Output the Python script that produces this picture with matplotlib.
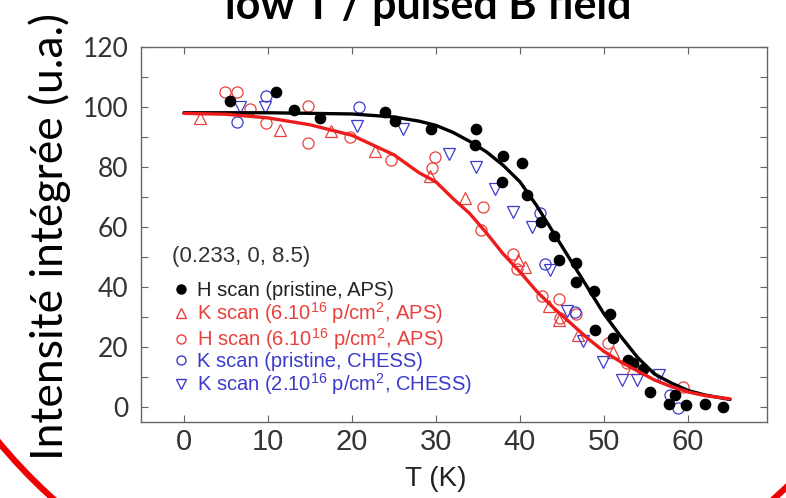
"""Integrated intensity vs temperature, slide crop 'low T / pulsed B field'."""
import matplotlib
matplotlib.use("Agg")
import matplotlib.pyplot as plt
from matplotlib.lines import Line2D
from matplotlib.patches import Arc
from matplotlib.transforms import IdentityTransform

plt.rcParams["mathtext.fontset"] = "custom"
plt.rcParams["mathtext.rm"] = "Liberation Sans"
plt.rcParams["mathtext.it"] = "Liberation Sans"

# H scan (pristine, APS) - filled black
h_pristine_T = [5.5, 11.0, 13.1, 16.2, 23.9, 25.1, 29.4, 34.6, 34.8, 37.9, 38.0, 40.2,
                40.8, 42.5, 44.0, 44.7, 46.7, 46.7, 48.8, 48.9, 50.7, 51.1, 52.9, 53.5,
                54.7, 55.5, 57.7, 58.5, 59.8, 62.0, 64.2]
h_pristine_I = [102, 104.8, 99.0, 96.2, 98.4, 95.3, 92.6, 87.4, 92.6, 74.9, 83.7, 81.3,
                70.7, 61.6, 56.8, 48.8, 47.9, 41.6, 38.6, 25.8, 31.1, 23.1, 15.6, 14.6,
                12.8, 5.1, 0.9, 4.0, 0.7, 0.9, 0.1]

# K scan (6.10^16 p/cm2, APS) - open red triangles
k_irr_T = [1.9, 11.4, 17.5, 22.7, 29.3, 33.5, 39.8, 40.6, 43.4, 44.6, 46.9, 51.1, 53.5]
k_irr_I = [96.4, 92.2, 91.8, 85.4, 77.0, 69.5, 48.8, 46.6, 33.8, 28.9, 23.9, 18.4, 13.0]

# H scan (6.10^16 p/cm2, APS) - open red circles
h_irr_T = [4.9, 6.3, 7.9, 9.8, 14.8, 14.8, 19.8, 24.7, 29.9, 29.5, 35.6, 35.4, 39.2,
           39.6, 42.6, 44.6, 44.8, 46.7, 50.5, 52.7, 59.4]
h_irr_I = [104.8, 105.0, 99.2, 94.6, 100.3, 87.8, 90.0, 82.4, 83.2, 79.5, 66.5, 58.8,
           51.0, 45.8, 36.9, 36.1, 29.5, 31.1, 21.2, 14.5, 6.7]

# K scan (pristine, CHESS) - open blue circles
k_chess_T = [6.3, 9.8, 20.8, 42.4, 43.0, 46.5, 57.9, 58.8]
k_chess_I = [94.8, 103.6, 99.8, 64.5, 47.7, 31.5, 4.0, -0.4]

# K scan (2.10^16 p/cm2, CHESS) - open blue down triangles
k_chess_irr_T = [6.7, 9.6, 20.6, 26.1, 31.5, 34.8, 37.0, 39.2, 41.4, 43.6, 45.6, 47.5,
                 49.9, 52.1, 53.9, 56.5]
k_chess_irr_I = [100.0, 99.8, 93.7, 92.6, 84.3, 79.8, 72.6, 64.9, 59.9, 45.5, 32.0, 22.0,
                 15.1, 9.0, 9.0, 10.6]

# fit curves
fit_T = [0, 5, 10, 15, 20, 25, 28, 30, 32, 34, 36, 38, 40, 42, 44, 46, 48, 50, 52, 54,
         56, 58, 60, 62, 65]
fit_pristine = [98, 98, 98, 97.8, 97.6, 96.6, 95.2, 93.8, 91.5, 88.5, 85, 80.5, 75, 67,
                58, 49, 40, 31, 23.5, 16.5, 11, 8, 5.5, 4, 2.5]
fit_irr = [97.8, 97.5, 96.3, 94, 90.5, 84, 78, 75, 69.5, 64.5, 58, 51, 45, 38.5, 33, 28,
           23, 18.5, 15, 12, 9, 6.8, 5, 3.8, 2.7]

y_ticks = [0, 20, 40, 60, 80, 100, 120]
x_ticks = [0, 10, 20, 30, 40, 50, 60]

RED = "#e8403c"
BLUE = "#3b3bcc"
W, H = 786, 498

fig = plt.figure(figsize=(W / 100, H / 100), dpi=100)
fig.patch.set_facecolor("white")
ax = fig.add_axes([141 / W, 1 - 422 / H, (767 - 141) / W, (422 - 46.7) / H])

mk = dict(linestyle="none", markeredgewidth=0.9)
ax.plot(h_irr_T, h_irr_I, marker="o", ms=8, mfc="none", mec=RED, **mk)
ax.plot(k_irr_T, k_irr_I, marker="^", ms=8, mfc="none", mec=RED, **mk)
ax.plot(k_chess_T, k_chess_I, marker="o", ms=8, mfc="none", mec=BLUE, **mk)
ax.plot(k_chess_irr_T, k_chess_irr_I, marker="v", ms=8, mfc="none", mec=BLUE, **mk)
ax.plot(h_pristine_T, h_pristine_I, marker="o", ms=7.5, mfc="black", mec="black", **mk)
ax.plot(fit_T, fit_pristine, color="black", lw=2.4, solid_capstyle="round")
ax.plot(fit_T, fit_irr, color="#ee1c1c", lw=2.4, solid_capstyle="round")

ax.set_xlim(-5.1, 69.4)
ax.set_ylim(-5, 120)
ax.set_xticks(x_ticks)
ax.set_yticks(y_ticks)
ax.set_yticks(range(10, 120, 20), minor=True)
ax.tick_params(which="both", direction="in", top=True, right=True, color="#666666",
               width=0.8, length=5)
ax.tick_params(axis="y", pad=9, labelsize=19, labelcolor="#333333")
ax.tick_params(axis="x", pad=4, labelsize=21, labelcolor="#333333")
for lab in ax.get_yticklabels():
    lab.set_family("Lato")
for lab in ax.get_xticklabels():
    lab.set_family("Liberation Sans")
for sp in ax.spines.values():
    sp.set_color("#666666")
    sp.set_linewidth(1.0)

# legend
ax.text(0.049, 0.44, "(0.233, 0, 8.5)", transform=ax.transAxes, fontsize=16,
        family="Liberation Sans", color="#333333", va="center")
handles = [
    Line2D([], [], marker="o", ms=6.5, mfc="black", mec="black", ls="none"),
    Line2D([], [], marker="^", ms=6.5, mfc="none", mec=RED, ls="none"),
    Line2D([], [], marker="o", ms=6.5, mfc="none", mec=RED, ls="none"),
    Line2D([], [], marker="o", ms=6.5, mfc="none", mec=BLUE, ls="none"),
    Line2D([], [], marker="v", ms=6.5, mfc="none", mec=BLUE, ls="none"),
]
labels = [
    "H scan (pristine, APS)",
    r"K scan (6.10$^{16}$ p/cm$^{2}$, APS)",
    r"H scan (6.10$^{16}$ p/cm$^{2}$, APS)",
    "K scan (pristine, CHESS)",
    r"K scan (2.10$^{16}$ p/cm$^{2}$, CHESS)",
]
leg = ax.legend(handles, labels, loc="upper left", bbox_to_anchor=(0.052, 0.375),
                frameon=False, handlelength=0.7, handletextpad=0.45, labelspacing=0.0,
                borderaxespad=0, borderpad=0,
                labelcolor=["#222222", RED, RED, BLUE, BLUE],
                prop={"family": "Liberation Sans", "size": 14.5})

fig.text(436 / W, 1 - 479 / H, "T (K)", ha="center", va="center", fontsize=20,
         family="Liberation Sans", color="#222222")
fig.text(50 / W, 1 - 237 / H, "Intensité intégrée (u.a.)", rotation=90, ha="center",
         va="center", fontsize=32, family="Lato", color="black")
fig.text(428 / W, 1 - 19 / H, "low T / pulsed B field", ha="center", va="baseline",
         fontsize=31, family="Lato", weight="bold", color="black")

# red outline of the slide's circle, only the bottom corners show
fig.patches.append(Arc((413.5, H - 98), 2 * 539, 2 * 539, theta1=205, theta2=335,
                       transform=IdentityTransform(), color="#ee0000", lw=4.5))

fig.savefig("out.png", dpi=100, facecolor="white")
